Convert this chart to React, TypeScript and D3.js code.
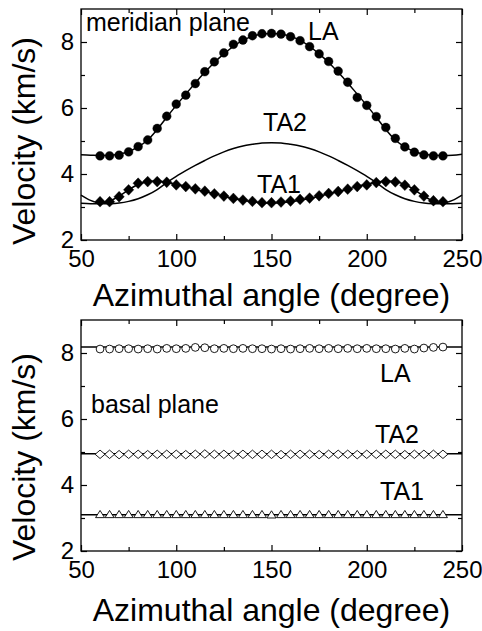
import { useEffect, useRef } from 'react';
import * as d3 from 'd3';

// measured angles (degree)
const markerAngles = [
  60, 65, 70, 75, 80, 85, 90, 95, 100, 105, 110, 115, 120, 125, 130, 135, 140, 145, 150,
  155, 160, 165, 170, 175, 180, 185, 190, 195, 200, 205, 210, 215, 220, 225, 230, 235, 240,
];
// angles of the fitted curves
const lineAngles = [
  50, 55, 60, 65, 70, 75, 80, 85, 90, 95, 100, 105, 110, 115, 120, 125, 130, 135, 140, 145, 150,
  155, 160, 165, 170, 175, 180, 185, 190, 195, 200, 205, 210, 215, 220, 225, 230, 235, 240, 245, 250,
];

// meridian plane, measured
const meridianLA = [
  4.55, 4.55, 4.57, 4.67, 4.83, 5.03, 5.38, 5.75, 6.12, 6.39, 6.74, 7.10, 7.40, 7.67, 7.93, 8.06, 8.19, 8.25, 8.26,
  8.24, 8.16, 8.04, 7.86, 7.64, 7.41, 7.12, 6.78, 6.32, 6.08, 5.74, 5.41, 5.08, 4.82, 4.66, 4.58, 4.55, 4.55,
];
const meridianTA1 = [
  3.16, 3.16, 3.31, 3.52, 3.72, 3.77, 3.77, 3.75, 3.67, 3.62, 3.55, 3.48, 3.40, 3.33, 3.26, 3.21, 3.17, 3.13, 3.13,
  3.15, 3.18, 3.23, 3.27, 3.34, 3.41, 3.47, 3.54, 3.62, 3.67, 3.74, 3.77, 3.76, 3.66, 3.52, 3.33, 3.19, 3.16,
];

// meridian plane, fitted curves
const meridianLALine = [
  4.58, 4.57, 4.56, 4.57, 4.60, 4.68, 4.82, 5.03, 5.35, 5.72, 6.08, 6.42, 6.76, 7.08, 7.38, 7.64, 7.87, 8.05, 8.17, 8.24, 8.26,
  8.24, 8.17, 8.05, 7.87, 7.64, 7.38, 7.08, 6.76, 6.42, 6.08, 5.72, 5.35, 5.03, 4.82, 4.68, 4.60, 4.57, 4.56, 4.57, 4.60,
];
const meridianTA2Line = [
  3.11, 3.10, 3.10, 3.10, 3.12, 3.17, 3.25, 3.37, 3.53, 3.74, 3.93, 4.10, 4.26, 4.41, 4.55, 4.67, 4.77, 4.85, 4.90, 4.94, 4.95,
  4.94, 4.90, 4.85, 4.77, 4.67, 4.55, 4.41, 4.26, 4.10, 3.93, 3.74, 3.53, 3.37, 3.25, 3.17, 3.12, 3.10, 3.10, 3.10, 3.11,
];
const meridianTA1Line = [
  3.36, 3.20, 3.12, 3.18, 3.33, 3.52, 3.68, 3.77, 3.79, 3.75, 3.69, 3.62, 3.54, 3.47, 3.40, 3.33, 3.26, 3.21, 3.16, 3.13, 3.12,
  3.13, 3.16, 3.21, 3.26, 3.33, 3.40, 3.47, 3.54, 3.62, 3.69, 3.75, 3.79, 3.77, 3.68, 3.52, 3.33, 3.18, 3.12, 3.20, 3.36,
];

// basal plane, measured
const basalLA = [
  8.12, 8.12, 8.13, 8.13, 8.12, 8.13, 8.12, 8.14, 8.13, 8.14, 8.17, 8.16, 8.13, 8.14, 8.13, 8.14, 8.13, 8.13, 8.12,
  8.13, 8.12, 8.13, 8.14, 8.13, 8.14, 8.13, 8.14, 8.13, 8.14, 8.13, 8.13, 8.12, 8.14, 8.12, 8.15, 8.17, 8.18,
];
const basalTA2 = [
  4.93, 4.93, 4.92, 4.93, 4.93, 4.92, 4.93, 4.93, 4.93, 4.92, 4.93, 4.94, 4.93, 4.93, 4.92, 4.93, 4.93, 4.93, 4.93,
  4.92, 4.93, 4.93, 4.93, 4.92, 4.93, 4.93, 4.93, 4.92, 4.93, 4.93, 4.93, 4.93, 4.92, 4.93, 4.93, 4.93, 4.93,
];
const basalTA1 = [
  3.12, 3.12, 3.12, 3.12, 3.12, 3.12, 3.12, 3.12, 3.12, 3.12, 3.12, 3.12, 3.12, 3.12, 3.12, 3.12, 3.12, 3.12, 3.11,
  3.12, 3.12, 3.12, 3.12, 3.12, 3.12, 3.12, 3.12, 3.12, 3.12, 3.12, 3.12, 3.12, 3.12, 3.12, 3.12, 3.12, 3.12,
];

// basal plane, fitted lines
const basalLineAngles = [50, 250];
const basalLALine = [8.18, 8.18];
const basalTA2Line = [4.95, 4.95];
const basalTA1Line = [3.1, 3.1];

const xDomain = [50, 250];
const yDomain = [2, 9];
const xTicks = [50, 100, 150, 200, 250];
const xMinorTicks = [75, 125, 175, 225];
const yTicks = [2, 4, 6, 8];
const yMinorTicks = [3, 5, 7];

const FONT = '"Liberation Sans", Arial, Helvetica, sans-serif';
const WIDTH = 482;
const HEIGHT = 631;
const LEFT = 81;
const RIGHT = 462;

// custom marker shapes (half width, half height)
const diamond = (hw: number, hh: number) => ({
  draw(ctx: any) {
    ctx.moveTo(0, -hh);
    ctx.lineTo(hw, 0);
    ctx.lineTo(0, hh);
    ctx.lineTo(-hw, 0);
    ctx.closePath();
  },
});
const triangle = (hw: number, hh: number) => ({
  draw(ctx: any) {
    ctx.moveTo(0, -hh);
    ctx.lineTo(hw, hh);
    ctx.lineTo(-hw, hh);
    ctx.closePath();
  },
});
const circle = (r: number) => ({
  draw(ctx: any) {
    ctx.moveTo(r, 0);
    ctx.arc(0, 0, r, 0, 2 * Math.PI);
  },
});

const panels = [
  {
    top: 9,
    bottom: 240,
    xTitleY: 306,
    yTitleY: 141,
    lines: [
      { angles: lineAngles, values: meridianLALine },
      { angles: lineAngles, values: meridianTA2Line },
      { angles: lineAngles, values: meridianTA1Line },
    ],
    markers: [
      { values: meridianLA, shape: circle(4.4), filled: true },
      { values: meridianTA1, shape: diamond(5.2, 5.4), filled: true },
    ],
    labels: [
      { text: 'meridian plane', x: 86, y: 31 },
      { text: 'LA', x: 308, y: 40 },
      { text: 'TA2', x: 263, y: 131 },
      { text: 'TA1', x: 257, y: 193 },
    ],
  },
  {
    top: 320,
    bottom: 551,
    xTitleY: 621,
    yTitleY: 457,
    lines: [
      { angles: basalLineAngles, values: basalLALine },
      { angles: basalLineAngles, values: basalTA2Line },
      { angles: basalLineAngles, values: basalTA1Line },
    ],
    markers: [
      { values: basalLA, shape: circle(3.9), filled: false },
      { values: basalTA2, shape: diamond(4.9, 4.2), filled: false },
      { values: basalTA1, shape: triangle(4.5, 3.6), filled: false },
    ],
    labels: [
      { text: 'basal plane', x: 91, y: 413 },
      { text: 'LA', x: 380, y: 382 },
      { text: 'TA2', x: 375, y: 443 },
      { text: 'TA1', x: 380, y: 500 },
    ],
  },
];

function drawPanel(svg: any, p: any) {
  const x = d3.scaleLinear().domain(xDomain).range([LEFT, RIGHT]);
  const y = d3.scaleLinear().domain(yDomain).range([p.bottom, p.top]);
  const g = svg.append('g');

  // fitted curves
  const line = d3.line<[number, number]>()
    .x((d) => x(d[0]))
    .y((d) => y(d[1]))
    .curve(d3.curveCatmullRom);

  p.lines.forEach((l: any) => {
    g.append('path')
      .datum(d3.zip(l.angles, l.values))
      .attr('fill', 'none')
      .attr('stroke', '#000')
      .attr('stroke-width', 1.5)
      .attr('d', line);
  });

  // measured points
  p.markers.forEach((m: any) => {
    const sym = d3.symbol().type(m.shape);
    g.append('g')
      .selectAll('path')
      .data(d3.zip(markerAngles, m.values))
      .join('path')
      .attr('transform', (d: number[]) => `translate(${x(d[0])},${y(d[1])})`)
      .attr('d', sym)
      .attr('fill', m.filled ? '#000' : '#fff')
      .attr('stroke', '#000')
      .attr('stroke-width', m.filled ? 0.4 : 0.9);
  });

  const styleAxis = (sel: any) => {
    sel.attr('font-family', FONT).attr('font-size', 24);
    sel.select('.domain').remove();
    sel.selectAll('line').attr('stroke', '#000').attr('stroke-width', 1.2);
    sel.selectAll('text').attr('fill', '#000');
  };

  // x axes (bottom with labels, top mirrored)
  g.append('g')
    .attr('transform', `translate(0,${p.bottom})`)
    .call(d3.axisBottom(x).tickValues(xTicks).tickSize(-6).tickSizeOuter(0).tickPadding(10).tickFormat(d3.format('d')))
    .call(styleAxis);
  g.append('g')
    .attr('transform', `translate(0,${p.bottom})`)
    .call(d3.axisBottom(x).tickValues(xMinorTicks).tickSize(-4).tickSizeOuter(0).tickFormat(() => ''))
    .call(styleAxis);
  g.append('g')
    .attr('transform', `translate(0,${p.top})`)
    .call(d3.axisTop(x).tickValues(xTicks).tickSize(-6).tickSizeOuter(0).tickFormat(() => ''))
    .call(styleAxis);
  g.append('g')
    .attr('transform', `translate(0,${p.top})`)
    .call(d3.axisTop(x).tickValues(xMinorTicks).tickSize(-4).tickSizeOuter(0).tickFormat(() => ''))
    .call(styleAxis);

  // y axes (left with labels, right mirrored)
  g.append('g')
    .attr('transform', `translate(${LEFT},0)`)
    .call(d3.axisLeft(y).tickValues(yTicks).tickSize(-6).tickSizeOuter(0).tickPadding(7).tickFormat(d3.format('d')))
    .call(styleAxis);
  g.append('g')
    .attr('transform', `translate(${LEFT},0)`)
    .call(d3.axisLeft(y).tickValues(yMinorTicks).tickSize(-4).tickSizeOuter(0).tickFormat(() => ''))
    .call(styleAxis);
  g.append('g')
    .attr('transform', `translate(${RIGHT},0)`)
    .call(d3.axisRight(y).tickValues(yTicks).tickSize(-6).tickSizeOuter(0).tickFormat(() => ''))
    .call(styleAxis);
  g.append('g')
    .attr('transform', `translate(${RIGHT},0)`)
    .call(d3.axisRight(y).tickValues(yMinorTicks).tickSize(-4).tickSizeOuter(0).tickFormat(() => ''))
    .call(styleAxis);

  // frame
  g.append('rect')
    .attr('x', LEFT)
    .attr('y', p.top)
    .attr('width', RIGHT - LEFT)
    .attr('height', p.bottom - p.top)
    .attr('fill', 'none')
    .attr('stroke', '#000')
    .attr('stroke-width', 1.3);

  // curve labels
  p.labels.forEach((l: any) => {
    g.append('text')
      .attr('x', l.x)
      .attr('y', l.y)
      .attr('fill', '#000')
      .attr('font-size', 25)
      .attr('font-family', FONT)
      .text(l.text);
  });

  // axis titles
  g.append('text')
    .attr('x', (LEFT + RIGHT) / 2)
    .attr('y', p.xTitleY)
    .attr('text-anchor', 'middle')
    .attr('fill', '#000')
    .attr('font-size', 32)
    .attr('font-family', FONT)
    .text('Azimuthal angle (degree)');

  g.append('text')
    .attr('transform', `translate(35,${p.yTitleY}) rotate(-90)`)
    .attr('text-anchor', 'middle')
    .attr('fill', '#000')
    .attr('font-size', 32)
    .attr('font-family', FONT)
    .text('Velocity (km/s)');
}

export default function App() {
  const svgRef = useRef<SVGSVGElement | null>(null);

  useEffect(() => {
    if (!svgRef.current) return;
    const svg = d3.select(svgRef.current);
    svg.selectAll('*').remove();
    svg.append('rect').attr('width', WIDTH).attr('height', HEIGHT).attr('fill', '#fff');
    panels.forEach((p) => drawPanel(svg, p));
  }, []);

  return (
    <svg
      ref={svgRef}
      width={WIDTH}
      height={HEIGHT}
      style={{ position: 'absolute', left: 0, top: 0, background: '#fff' }}
    />
  );
}
